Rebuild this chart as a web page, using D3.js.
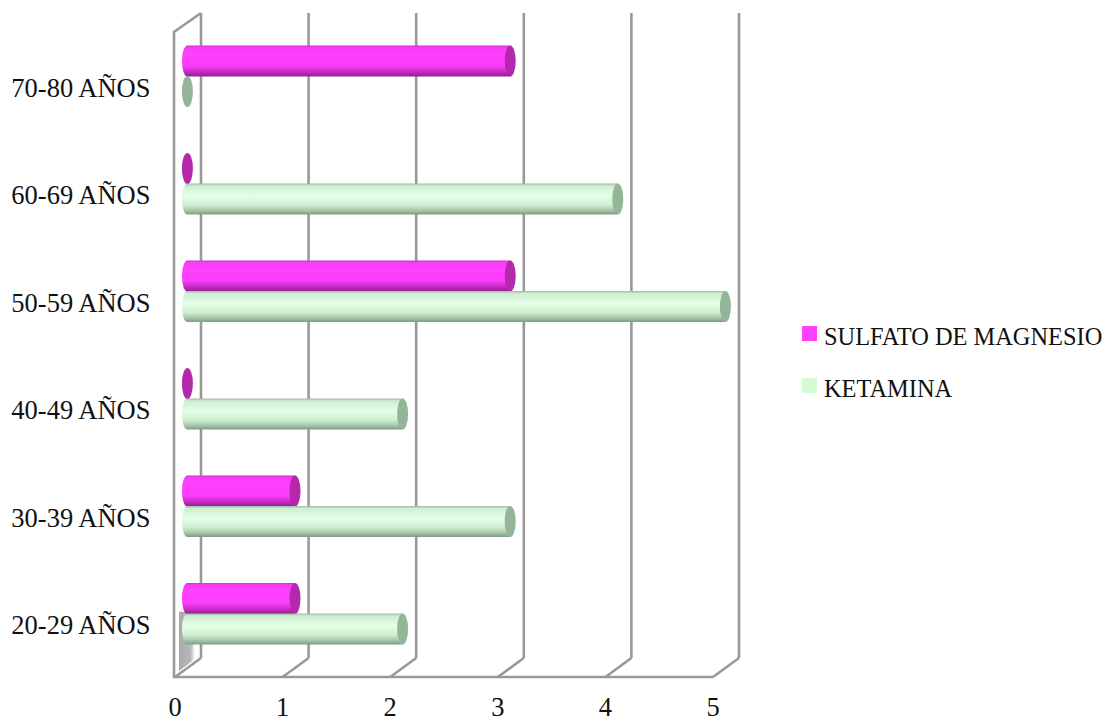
<!DOCTYPE html>
<html>
<head>
<meta charset="utf-8">
<style>
html, body { margin: 0; padding: 0; background: #fff; }
svg { display: block; }
text { font-family: "Liberation Serif", serif; font-size: 26.5px; fill: #111; }
.legend-label { font-size: 24.4px; }
</style>
<script src="https://cdn.jsdelivr.net/npm/d3@7/dist/d3.min.js"></script>
</head>
<body>
<svg id="chart" width="1107" height="722"></svg>
<script>
// Patient counts per age group, one list per treatment
const ageGroups = ["70-80 AÑOS", "60-69 AÑOS", "50-59 AÑOS", "40-49 AÑOS", "30-39 AÑOS", "20-29 AÑOS"];
const sulfato = [3, 0, 3, 0, 1, 1];
const ketamina = [0, 4, 5, 2, 3, 2];
const ticks = [0, 1, 2, 3, 4, 5];
const seriesNames = ["SULFATO DE MAGNESIO", "KETAMINA"];

const svg = d3.select("#chart");

// Oblique projection: the back wall sits up and to the right of the front plane
const depth = { x: 26, y: -19 };
const floorY = 677;
const wallH = 645;
const x = d3.scaleLinear().domain([0, 5]).range([175, 713]);
const y = d3.scaleBand().domain(ageGroups).range([22.5, 667.5]).paddingInner(0);
const barOffset = 12.4;
const barH = 31;
const capRx = 5.5;
const gap = 30.5;

const palette = [
  { body: [[0, "#d030d0"], [0.06, "#f53cf5"], [0.25, "#ff40ff"], [0.65, "#fb3efb"], [0.85, "#c42cc4"], [1, "#8f1f8f"]], cap: "#b428ac", key: "#ff40ff" },
  { body: [[0, "#9dbb9f"], [0.08, "#cdeed0"], [0.4, "#e6ffe8"], [0.7, "#cdeecf"], [0.88, "#a3c3a6"], [1, "#7f9a82"]], cap: "#93b598", key: "#d4fbd6" }
];

const defs = svg.append("defs");
palette.forEach((p, i) => {
  const g = defs.append("linearGradient").attr("id", "body" + i)
    .attr("x1", 0).attr("y1", 0).attr("x2", 0).attr("y2", 1);
  p.body.forEach(s => g.append("stop").attr("offset", s[0]).attr("stop-color", s[1]));
});
const sh = defs.append("linearGradient").attr("id", "floorShade")
  .attr("x1", 0).attr("y1", 0).attr("x2", 1).attr("y2", 0);
sh.append("stop").attr("offset", 0).attr("stop-color", "#a8a8a8");
sh.append("stop").attr("offset", 0.72).attr("stop-color", "#b8b8b8");
sh.append("stop").attr("offset", 1).attr("stop-color", "#ffffff");

// Frame: back wall gridlines, floor diagonals, front floor edge and left wall
const frame = svg.append("g").attr("fill", "none").attr("stroke", "#999").attr("stroke-width", 2.6);
frame.selectAll("line.grid").data(ticks).join("line").attr("class", "grid")
  .attr("x1", d => x(d) + depth.x).attr("x2", d => x(d) + depth.x)
  .attr("y1", floorY + depth.y - wallH).attr("y2", floorY + depth.y);
frame.selectAll("line.diag").data(ticks).join("line").attr("class", "diag")
  .attr("x1", d => x(d)).attr("x2", d => x(d) + depth.x)
  .attr("y1", floorY).attr("y2", floorY + depth.y);
frame.append("path")
  .attr("d", `M${x(5)},${floorY}H${x(0) - 1}V${floorY - wallH}L${x(0) + depth.x},${floorY + depth.y - wallH}`);

// Soft shadow cast on the wall below the lowest bar
const shadowTop = y(ageGroups[5]) + y.bandwidth() / 2 - 2;
svg.append("path")
  .attr("fill", "url(#floorShade)")
  .attr("d", `M${x(0) + 4},${shadowTop}H${x(0) + 20}V${floorY - 18}L${x(0) + 4},${floorY - 6}Z`);

// One cylinder: body with a rounded back end, and an elliptical cap at the value
function cylinder(parent, v, cy, i) {
  const x0 = x(0) + barOffset;
  const x1 = x(v) + barOffset;
  const ry = barH / 2;
  const g = parent.append("g");
  if (v > 0) {
    g.append("path")
      .attr("fill", `url(#body${i})`)
      .attr("d", `M${x1},${cy - ry}H${x0}A${capRx},${ry} 0 0 0 ${x0},${cy + ry}H${x1}Z`);
  }
  g.append("ellipse")
    .attr("cx", x1).attr("cy", cy)
    .attr("rx", capRx).attr("ry", ry)
    .attr("fill", palette[i].cap);
}

const bars = svg.append("g");
ageGroups.forEach((group, k) => {
  const c = y(group) + y.bandwidth() / 2;
  cylinder(bars, sulfato[k], c - gap / 2, 0);
  cylinder(bars, ketamina[k], c + gap / 2, 1);
});

// Category labels
svg.append("g").selectAll("text").data(ageGroups).join("text")
  .attr("x", 150.5)
  .attr("y", d => y(d) + y.bandwidth() / 2 + 20.5)
  .attr("text-anchor", "end")
  .text(d => d);

// Value axis labels
svg.append("g").selectAll("text").data(ticks).join("text")
  .attr("x", d => x(d))
  .attr("y", 716)
  .attr("text-anchor", "middle")
  .text(d => d);

// Legend
const legend = svg.append("g").selectAll("g").data(seriesNames).join("g")
  .attr("transform", (d, i) => `translate(802,${326 + i * 52})`);
legend.append("rect").attr("width", 15).attr("height", 15)
  .attr("fill", (d, i) => palette[i].key);
legend.append("text").attr("class", "legend-label").attr("x", 22).attr("y", 19).text(d => d);
</script>
</body>
</html>
